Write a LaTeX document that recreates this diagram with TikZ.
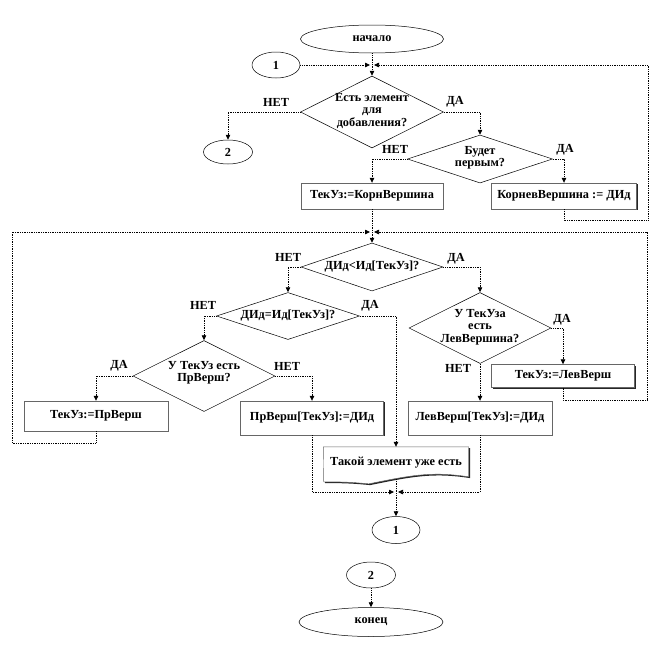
\documentclass[tikz,border=0pt]{standalone}
\usepackage{fontspec}
\setmainfont{Liberation Serif}
\usetikzlibrary{shapes.geometric,arrows.meta,shadows,backgrounds}
\begin{document}
\begin{tikzpicture}[x=1pt,y=-1pt,
  every node/.style={font=\fontsize{12.3}{12.3}\selectfont\bfseries},
  ell/.style={ellipse,draw,line width=0.5pt,inner sep=0pt,fill=white},
  dia/.style={diamond,draw,line width=0.5pt,inner sep=0pt},
  box/.style={rectangle,draw=black!60,line width=0.4pt,fill=white,inner sep=0pt,
    drop shadow={shadow xshift=1.3pt,shadow yshift=-1.3pt,fill=black!85,opacity=1}},
  conn/.style={densely dotted,line width=0.75pt},
  arr/.style={conn,-{Triangle[length=5pt,width=4.5pt]}},
  lbl/.style={inner sep=0pt},
  txt/.style={inner sep=0pt,align=center},
]
\useasboundingbox (0,0) rectangle (660,648);

% nodes
\node[ell,minimum width=143pt,minimum height=28pt] (start) at (372,39) {начало};
\node[ell,minimum width=48pt,minimum height=26pt] (c1a) at (276,65) {1};
\node[dia,minimum width=143pt,minimum height=72pt] (d1) at (372,112) {};
\node[txt] (d1t) at (372,111) {Есть элемент\\для\\добавления?};
\node[ell,minimum width=49pt,minimum height=24pt] (c2a) at (228,152) {2};
\node[dia,minimum width=145pt,minimum height=48pt] (d2) at (480,159) {};
\node[txt] (d2t) at (480,158) {Будет\\первым?};
\node[box,minimum width=142pt,minimum height=26pt] (b1) at (372,196) {ТекУз:=КорнВершина};
\node[box,minimum width=145pt,minimum height=26pt] (b2) at (564,196) {КорневВершина := ДИд};

\node[dia,minimum width=142pt,minimum height=48pt] (d3) at (372,267) {};
\node[txt] (d3t) at (372,267) {ДИд<Ид[ТекУз]?};
\node[dia,minimum width=143pt,minimum height=47pt] (d4) at (288,316) {};
\node[txt] (d4t) at (288,316) {ДИд=Ид[ТекУз]?};
\node[dia,minimum width=142pt,minimum height=71pt] (d5) at (480,328) {};
\node[txt] (d5t) at (480,327) {У ТекУза\\есть\\ЛевВершина?};
\node[dia,minimum width=142pt,minimum height=71pt] (d6) at (204,376) {};
\node[txt] (d6t) at (204,373) {У ТекУз есть\\ПрВерш?};

\node[box,minimum width=144pt,minimum height=30pt] (b3) at (96,416) {ТекУз:=ПрВерш};
\node[box,minimum width=143pt,minimum height=34pt] (b4) at (312,418) {ПрВерш[ТекУз]:=ДИд};
\node[box,minimum width=144pt,minimum height=34pt] (b5) at (480,418) {ЛевВерш[ТекУз]:=ДИд};
\node[box,minimum width=143pt,minimum height=23pt] (b6) at (563,376) {ТекУз:=ЛевВерш};

\node[inner sep=0pt,minimum width=145pt,minimum height=32pt] (doc) at (396,463) {Такой элемент уже есть};
\begin{scope}[on background layer]
  \fill[black!85] ([xshift=1.3pt,yshift=-1.3pt]doc.north west) -- ([xshift=1.3pt,yshift=-1.3pt]doc.north east)
    -- ++(0,30) .. controls ++(-38,-6) and ++(40,-8) .. ++(-100,7)
    .. controls ++(-20,-2) and ++(15,0) .. ++(-45,-2) -- cycle;
  \filldraw[fill=white,draw=black!60,line width=0.4pt] (doc.north west) -- (doc.north east)
    -- ++(0,30) .. controls ++(-38,-6) and ++(40,-8) .. ++(-100,7)
    .. controls ++(-20,-2) and ++(15,0) .. ++(-45,-2) -- cycle;
\end{scope}

\node[ell,minimum width=48pt,minimum height=27pt] (c1b) at (396,530) {1};
\node[ell,minimum width=49pt,minimum height=26pt] (c2b) at (371,575) {2};
\node[ell,minimum width=144pt,minimum height=29pt] (end) at (371,622) {конец};

% coordinates
\coordinate (m1) at (372,65);
\coordinate (r1a) at (648,220);
\coordinate (r1b) at (648,65);
\coordinate (m2) at (372,232);
\coordinate (l2a) at (12,443);
\coordinate (l2b) at (12,232);
\coordinate (r2a) at (647,400);
\coordinate (r2b) at (647,232);
\coordinate (m3) at (396,492);

% labels
\node[lbl] (l1) at (276,102) {НЕТ};
\node[lbl] (l2) at (455,102) {ДА};
\node[lbl] (l3) at (395,149) {НЕТ};
\node[lbl] (l4) at (565,150) {ДА};
\node[lbl] (l5) at (288,257) {НЕТ};
\node[lbl] (l6) at (456,259) {ДА};
\node[lbl] (l7) at (203,305) {НЕТ};
\node[lbl] (l8) at (370,306) {ДА};
\node[lbl] (l9) at (562,320) {ДА};
\node[lbl] (l10) at (458,368) {НЕТ};
\node[lbl] (l11) at (119,366) {ДА};
\node[lbl] (l12) at (287,366) {НЕТ};

% connectors
\draw[arr] (start.south) -- (d1.north);
\draw[arr] (c1a.east) -- ([xshift=-2pt]m1);
\draw[arr] (b2.south) |- (r1a) -- (r1b) -- ([xshift=2pt]m1);
\draw[arr] (d1.west) -| (c2a.north);
\draw[arr] (d1.east) -| (d2.north);
\draw[arr] (d2.west) -| (b1.north);
\draw[arr] (d2.east) -| (b2.north);
\draw[arr] (b1.south) -- (d3.north);
\draw[arr] (b3.south) |- (l2a) -- (l2b) -- ([xshift=-2pt]m2);
\draw[arr] (b6.south) |- (r2a) -- (r2b) -- ([xshift=2pt]m2);
\draw[arr] (d3.west) -| (d4.north);
\draw[arr] (d3.east) -| (d5.north);
\draw[arr] (d4.west) -| (d6.north);
\draw[arr] (d4.east) -| (doc.north);
\draw[arr] (d5.east) -| (b6.north);
\draw[arr] (d5.south) -- (b5.north);
\draw[arr] (d6.west) -| (b3.north);
\draw[arr] (d6.east) -| (b4.north);
\draw[arr] (b4.south) |- ([xshift=-2pt]m3);
\draw[arr] (b5.south) |- ([xshift=2pt]m3);
\draw[arr] (doc.south) -- (c1b.north);
\draw[arr] (c2b.south) -- (end.north);
\end{tikzpicture}
\end{document}
